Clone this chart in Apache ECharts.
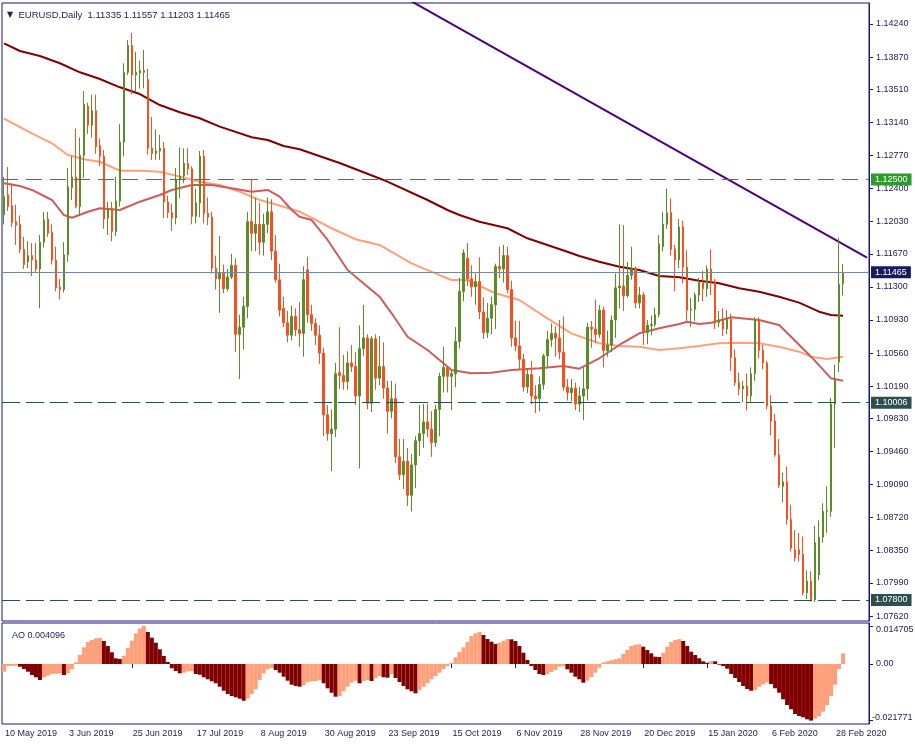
<!DOCTYPE html>
<html>
<head>
<meta charset="utf-8">
<title>EURUSD Daily</title>
<script src="https://cdn.jsdelivr.net/npm/echarts/dist/echarts.min.js"></script>
<style>html,body{margin:0;padding:0;background:#fff}#chart{width:915px;height:746px}</style>
</head>
<body>
<div id="chart"></div>
<script>
// ---------------- data ----------------
const symbolName = 'EURUSD,Daily';
const firstDay = '2019-05-10';
const marketHolidays = ['2019-12-25', '2020-01-01'];

const openP = [
1.1211,1.1233,1.1221,1.1203,1.1200,1.1172,1.1158,1.1165,1.1160,1.1150,
1.1180,1.1206,1.1191,1.1160,1.1130,1.1127,1.1166,1.1241,1.1253,1.1220,
1.1277,1.1332,1.1311,1.1327,1.1288,1.1276,1.1207,1.1218,1.1192,1.1226,
1.1292,1.1370,1.1400,1.1367,1.1369,1.1370,1.1362,1.1285,1.1279,1.1282,
1.1285,1.1225,1.1213,1.1207,1.1250,1.1254,1.1268,1.1262,1.1209,1.1224,
1.1276,1.1212,1.1208,1.1151,1.1139,1.1146,1.1128,1.1141,1.1154,1.1077,
1.1085,1.1108,1.1203,1.1190,1.1200,1.1180,1.1200,1.1214,1.1170,1.1138,
1.1106,1.1090,1.1076,1.1097,1.1082,1.1078,1.1149,1.1099,1.1089,1.1076,
1.1056,1.0987,1.0966,1.0971,1.1034,1.1031,1.1024,1.1045,1.1041,1.1008,
1.1061,1.1073,1.1000,1.1072,1.1028,1.1041,1.1017,1.0991,1.1005,1.0940,
1.0920,1.0935,1.0897,1.0931,1.0958,1.0966,1.0979,1.0971,1.0956,1.0993,
1.1030,1.1040,1.1030,1.1033,1.1069,1.1125,1.1162,1.1139,1.1130,1.1136,
1.1102,1.1079,1.1095,1.1110,1.1153,1.1150,1.1165,1.1127,1.1073,1.1064,
1.1049,1.1018,1.1032,1.1008,1.1005,1.1021,1.1053,1.1071,1.1078,1.1073,
1.1057,1.1018,1.1012,1.1017,1.0999,1.1008,1.1016,1.1085,1.1083,1.1077,
1.1104,1.1059,1.1065,1.1093,1.1129,1.1131,1.1120,1.1143,1.1151,1.1112,
1.1121,1.1079,1.1087,1.1088,1.1099,1.1175,1.1200,1.1213,1.1172,1.1160,
1.1197,1.1152,1.1104,1.1105,1.1121,1.1135,1.1128,1.1150,1.1136,1.1090,
1.1093,1.1083,1.1094,1.1051,1.1023,1.1016,1.1019,1.1008,1.1033,1.1093,
1.1059,1.1045,1.0997,1.0980,1.0942,1.0907,1.0912,1.0870,1.0836,1.0836,
1.0831,1.0788,1.0801,1.0780,1.0808,1.0850,1.0879,1.0879,1.0999,1.1046,
1.11335];

const highP = [
1.1253,1.1264,1.1246,1.1222,1.1210,1.1186,1.1181,1.1179,1.1179,1.1188,
1.1214,1.1214,1.1200,1.1175,1.1139,1.1180,1.1263,1.1276,1.1307,1.1297,
1.1349,1.1336,1.1345,1.1345,1.1296,1.1283,1.1225,1.1225,1.1253,1.1312,
1.1380,1.1406,1.1414,1.1393,1.1383,1.1395,1.1374,1.1320,1.1306,1.1300,
1.1292,1.1232,1.1223,1.1263,1.1286,1.1285,1.1285,1.1265,1.1240,1.1282,
1.1283,1.1230,1.1214,1.1165,1.1187,1.1155,1.1150,1.1167,1.1162,1.1099,
1.1119,1.1214,1.1250,1.1230,1.1224,1.1212,1.1230,1.1228,1.1188,1.1156,
1.1119,1.1103,1.1109,1.1106,1.1113,1.1153,1.1164,1.1110,1.1095,1.1087,
1.1062,1.0998,1.0993,1.1045,1.1085,1.1054,1.1058,1.1065,1.1057,1.1087,
1.1110,1.1077,1.1075,1.1077,1.1075,1.1068,1.1025,1.1025,1.1022,1.0960,
1.0960,1.0950,1.0943,1.0963,1.0998,1.0999,1.0999,1.0991,1.0998,1.1034,
1.1063,1.1041,1.1038,1.1085,1.1140,1.1172,1.1179,1.1154,1.1145,1.1163,
1.1118,1.1112,1.1119,1.1156,1.1175,1.1177,1.1175,1.1137,1.1092,1.1092,
1.1055,1.1039,1.1047,1.1020,1.1030,1.1055,1.1081,1.1089,1.1086,1.1093,
1.1097,1.1027,1.1027,1.1023,1.1018,1.1040,1.1090,1.1092,1.1116,1.1110,
1.1108,1.1081,1.1098,1.1145,1.1200,1.1199,1.1158,1.1175,1.1153,1.1130,
1.1124,1.1093,1.1098,1.1107,1.1188,1.1214,1.1240,1.1229,1.1177,1.1206,
1.1204,1.1171,1.1118,1.1124,1.1140,1.1148,1.1154,1.1172,1.1139,1.1103,
1.1106,1.1104,1.1100,1.1060,1.1034,1.1025,1.1033,1.1040,1.1096,1.1096,
1.1065,1.1047,1.1009,1.0988,1.0960,1.0922,1.0929,1.0886,1.0858,1.0855,
1.0851,1.0813,1.0812,1.0863,1.0869,1.0888,1.0907,1.1006,1.1043,1.1185,
1.11557];

const lowP = [
1.1200,1.1215,1.1197,1.1177,1.1168,1.1150,1.1151,1.1142,1.1146,1.1106,
1.1174,1.1186,1.1155,1.1125,1.1116,1.1124,1.1158,1.1227,1.1218,1.1209,
1.1252,1.1301,1.1297,1.1279,1.1265,1.1195,1.1188,1.1181,1.1187,1.1220,
1.1276,1.1367,1.1345,1.1348,1.1352,1.1352,1.1278,1.1272,1.1272,1.1272,
1.1207,1.1207,1.1193,1.1200,1.1229,1.1246,1.1255,1.1200,1.1201,1.1208,
1.1201,1.1199,1.1145,1.1127,1.1101,1.1123,1.1125,1.1139,1.1057,1.1027,
1.1060,1.1095,1.1170,1.1170,1.1166,1.1165,1.1190,1.1160,1.1135,1.1097,
1.1085,1.1068,1.1070,1.1075,1.1063,1.1052,1.1090,1.1081,1.1065,1.1044,
1.0963,1.0958,1.0924,1.0962,1.1016,1.1015,1.1015,1.1035,1.0998,1.0927,
1.1053,1.0993,1.0990,1.1015,1.1020,1.1005,1.0966,1.0983,1.0933,1.0914,
1.0904,1.0885,1.0879,1.0905,1.0941,1.0950,1.0962,1.0940,1.0951,1.0963,
1.1012,1.1012,1.0992,1.1018,1.1061,1.1114,1.1131,1.1119,1.1110,1.1094,
1.1072,1.1073,1.1077,1.1083,1.1140,1.1135,1.1123,1.1063,1.1058,1.1037,
1.1013,1.1011,1.0999,1.0989,1.0991,1.1015,1.1040,1.1063,1.1052,1.1049,
1.1014,1.1003,1.1002,1.0992,1.0990,1.0981,1.1003,1.1062,1.1067,1.1073,
1.1040,1.1052,1.1057,1.1073,1.1106,1.1103,1.1118,1.1138,1.1106,1.1106,
1.1065,1.1066,1.1076,1.1085,1.1096,1.1170,1.1195,1.1165,1.1125,1.1151,
1.1134,1.1092,1.1085,1.1092,1.1113,1.1114,1.1119,1.1121,1.1083,1.1085,
1.1075,1.1077,1.1036,1.1019,1.1009,1.1001,1.0992,1.1001,1.1025,1.1050,
1.1038,1.0993,1.0964,1.0940,1.0905,1.0889,1.0864,1.0834,1.0823,1.0823,
1.0785,1.0781,1.0778,1.0778,1.0802,1.0844,1.0855,1.0873,1.0950,1.1035,
1.11203];

const closeP = [
1.1231,1.1220,1.1202,1.1199,1.1172,1.1155,1.1165,1.1160,1.1150,1.1180,
1.1205,1.1190,1.1160,1.1129,1.1127,1.1166,1.1242,1.1253,1.1220,1.1277,
1.1334,1.1311,1.1327,1.1287,1.1276,1.1206,1.1218,1.1192,1.1226,1.1292,
1.1370,1.1400,1.1367,1.1370,1.1372,1.1372,1.1285,1.1279,1.1282,1.1285,
1.1225,1.1213,1.1207,1.1250,1.1254,1.1268,1.1262,1.1209,1.1224,1.1276,
1.1212,1.1208,1.1151,1.1139,1.1146,1.1128,1.1141,1.1154,1.1077,1.1085,
1.1108,1.1203,1.1190,1.1200,1.1180,1.1200,1.1214,1.1170,1.1138,1.1104,
1.1090,1.1076,1.1097,1.1082,1.1078,1.1138,1.1099,1.1089,1.1076,1.1056,
1.0987,1.0966,1.0971,1.1033,1.1031,1.1024,1.1045,1.1041,1.1008,1.1061,
1.1073,1.1000,1.1072,1.1028,1.1041,1.1017,1.0991,1.1005,1.0940,1.0920,
1.0935,1.0897,1.0931,1.0958,1.0966,1.0979,1.0971,1.0956,1.0993,1.1030,
1.1040,1.1030,1.1033,1.1069,1.1125,1.1168,1.1139,1.1130,1.1136,1.1102,
1.1079,1.1095,1.1110,1.1153,1.1150,1.1165,1.1127,1.1073,1.1064,1.1049,
1.1018,1.1032,1.1008,1.1005,1.1021,1.1053,1.1071,1.1078,1.1073,1.1057,
1.1018,1.1012,1.1017,1.0999,1.1008,1.1016,1.1085,1.1083,1.1077,1.1104,
1.1059,1.1065,1.1093,1.1129,1.1131,1.1120,1.1143,1.1151,1.1112,1.1121,
1.1079,1.1087,1.1088,1.1099,1.1178,1.1200,1.1213,1.1172,1.1160,1.1197,
1.1152,1.1104,1.1105,1.1121,1.1135,1.1128,1.1150,1.1136,1.1090,1.1093,
1.1083,1.1094,1.1051,1.1023,1.1016,1.1019,1.1008,1.1033,1.1093,1.1059,
1.1045,1.0997,1.0980,1.0942,1.0908,1.0912,1.0870,1.0838,1.0827,1.0831,
1.0788,1.0801,1.0780,1.0844,1.0850,1.0879,1.0880,1.0999,1.1026,1.1133,
1.11465];

// Awesome Oscillator, one value per bar
const aoValues = [
-0.00296,-0.00077,-0.00073,-0.00065,-0.00104,-0.00192,-0.00296,-0.00423,-0.00512,-0.00615,
-0.00512,-0.00450,-0.00385,-0.00373,-0.00358,-0.00423,-0.00358,-0.00192,0.00065,0.00346,
0.00642,0.00846,0.00923,0.00988,0.01000,0.00885,0.00692,0.00450,0.00219,0.00192,
0.00319,0.00615,0.00896,0.01181,0.01373,0.014705,0.01231,0.01012,0.00819,0.00565,
0.00308,0.00077,-0.00165,-0.00269,-0.00358,-0.00335,-0.00281,-0.00269,-0.00385,-0.00412,
-0.00512,-0.00588,-0.00665,-0.00742,-0.00873,-0.01027,-0.01154,-0.01231,-0.01281,-0.01335,
-0.01412,-0.01335,-0.01154,-0.00973,-0.00615,-0.00358,-0.00204,-0.00154,-0.00231,-0.00335,
-0.00488,-0.00642,-0.00796,-0.00846,-0.00873,-0.00808,-0.00704,-0.00665,-0.00654,-0.00615,
-0.00742,-0.00935,-0.01104,-0.01258,-0.01231,-0.01050,-0.00873,-0.00719,-0.00642,-0.00742,
-0.00654,-0.00615,-0.00654,-0.00550,-0.00462,-0.00512,-0.00527,-0.00385,-0.00538,-0.00692,
-0.00846,-0.00973,-0.01050,-0.01127,-0.01000,-0.00873,-0.00742,-0.00588,-0.00462,-0.00335,
-0.00192,-0.00077,0.00050,0.00258,0.00462,0.00642,0.00846,0.01077,0.01181,0.01231,
0.01115,0.00962,0.00858,0.00769,0.00819,0.00896,0.00962,0.00950,0.00885,0.00692,
0.00435,0.00154,-0.00077,-0.00231,-0.00385,-0.00423,-0.00385,-0.00308,-0.00231,-0.00104,
-0.00088,-0.00204,-0.00335,-0.00488,-0.00588,-0.00719,-0.00642,-0.00512,-0.00335,-0.00142,
0.00065,0.00104,0.00142,0.00181,0.00219,0.00385,0.00538,0.00692,0.00742,0.00758,
0.00665,0.00538,0.00412,0.00281,0.00269,0.00435,0.00665,0.00846,0.00923,0.00962,
0.00885,0.00692,0.00473,0.00346,0.00219,0.00104,0.00050,0.00115,0.00104,-0.00027,
-0.00077,-0.00181,-0.00385,-0.00538,-0.00692,-0.00846,-0.00962,-0.01027,-0.01000,-0.00873,
-0.00781,-0.00704,-0.00769,-0.00935,-0.01104,-0.01358,-0.01577,-0.01742,-0.01923,-0.02000,
-0.02050,-0.02127,-0.021771,-0.02104,-0.02012,-0.01835,-0.01577,-0.01231,-0.00796,-0.00192,
0.004096];

// moving averages: [bar index, price]
const maSlow = [[0,1.14024],[4,1.13938],[9,1.13882],[14,1.13801],[19,1.13700],[24,1.13625],[29,1.13532],[34,1.13457],[39,1.13334],[44,1.13253],[49,1.13186],[54,1.13092],[62,1.12973],[66,1.12943],[70,1.12876],[74,1.12839],[84,1.12686],[95,1.12496],[106,1.12272],[111,1.12160],[114,1.12104],[119,1.12029],[126,1.11956],[131,1.11844],[136,1.11769],[141,1.11694],[144,1.11646],[149,1.11582],[154,1.11526],[159,1.11489],[164,1.11422],[169,1.11408],[174,1.11370],[179,1.11340],[184,1.11285],[189,1.11247],[194,1.11191],[199,1.11124],[204,1.11023],[207,1.10986],[210,1.10978]];
const maMid = [[0,1.13181],[7,1.13018],[12,1.12906],[16,1.12775],[20,1.12727],[24,1.12700],[29,1.12600],[34,1.12600],[39,1.12588],[44,1.12533],[49,1.12477],[54,1.12440],[59,1.12365],[64,1.12272],[69,1.12210],[74,1.12141],[82,1.11956],[88,1.11833],[94,1.11769],[102,1.11564],[108,1.11452],[112,1.11377],[116,1.11377],[123,1.11229],[129,1.11154],[136,1.10949],[142,1.10781],[149,1.10670],[154,1.10639],[159,1.10632],[164,1.10595],[169,1.10614],[174,1.10639],[179,1.10670],[184,1.10676],[189,1.10670],[194,1.10632],[199,1.10576],[202,1.10520],[206,1.10494],[210,1.10520]];
const maFast = [[0,1.12459],[4,1.12429],[7,1.12384],[12,1.12272],[15,1.12104],[17,1.12074],[21,1.12141],[24,1.12179],[29,1.12160],[34,1.12253],[39,1.12328],[42,1.12384],[47,1.12440],[52,1.12440],[57,1.12403],[62,1.12365],[66,1.12384],[69,1.12309],[72,1.12160],[74,1.12085],[77,1.12048],[81,1.11825],[86,1.11489],[91,1.11303],[94,1.11191],[97,1.11005],[101,1.10743],[106,1.10595],[109,1.10483],[112,1.10371],[117,1.10334],[122,1.10341],[127,1.10371],[134,1.10390],[140,1.10416],[144,1.10386],[149,1.10502],[154,1.10651],[159,1.10781],[164,1.10837],[169,1.10885],[171,1.10911],[174,1.10885],[177,1.10900],[182,1.10960],[189,1.10930],[194,1.10874],[197,1.10743],[202,1.10520],[207,1.10278],[210,1.10251]];

const trendLine = [[101,1.14518],[216,1.11627]];
const resistanceLevel = 1.12500;
const supportLevels = [1.10006, 1.07800];

const priceTicks = [1.14240,1.13870,1.13510,1.13140,1.12770,1.12400,1.12030,1.11670,1.11300,1.10930,1.10560,1.10190,1.09830,1.09460,1.09090,1.08720,1.08350,1.07990,1.07620];
const aoTicks = [0.014705, 0, -0.021771];

// ---------------- build ----------------
const MON = ['Jan','Feb','Mar','Apr','May','Jun','Jul','Aug','Sep','Oct','Nov','Dec'];
const dates = [];
for (let t = Date.parse(firstDay + 'T00:00:00Z'); dates.length < closeP.length; t += 86400000) {
  const d = new Date(t);
  const wd = d.getUTCDay();
  const iso = d.toISOString().slice(0, 10);
  if (wd === 0 || wd === 6 || marketHolidays.includes(iso)) continue;
  dates.push(d.getUTCDate() + ' ' + MON[d.getUTCMonth()] + ' ' + d.getUTCFullYear());
}
const rightPad = 6;
const categories = dates.concat(Array.from({length: rightPad}, (_, i) => 'pad' + i));
const showDate = (i) => i % 16 === 0 && i < dates.length;

const candles = dates.map((_, i) => [openP[i], closeP[i], lowP[i], highP[i]]);
const last = closeP.length - 1;
const currentPrice = closeP[last];

const NAVY = '#191970';
const TXT = '#1c1c5c';
const FONT = '"Liberation Sans", Arial, sans-serif';
const BULL = '#5a8c28';
const BEAR = '#f5501f';
const AO_UP = '#ffa07a';
const AO_DOWN = '#800000';

const tagLabel = (bg) => ({
  show: true, position: 'end', distance: 2, color: '#ffffff', backgroundColor: bg,
  fontSize: 9, fontFamily: FONT, padding: [2, 4, 1, 4],
  formatter: (p) => Number(p.value).toFixed(5)
});

const option = {
  animation: false,
  backgroundColor: '#ffffff',
  textStyle: { fontFamily: FONT },
  title: [
    {
      text: '{tri|▼}  ' + symbolName + '  ' + [openP[last], highP[last], lowP[last], closeP[last]].map(v => v.toFixed(5)).join(' '),
      left: 2, top: 5,
      textStyle: { fontSize: 9.5, fontWeight: 'normal', color: TXT, fontFamily: FONT,
        rich: { tri: { fontSize: 8, color: TXT, fontFamily: 'DejaVu Sans' } } }
    },
    {
      text: 'AO ' + aoValues[last].toFixed(6),
      left: 7, top: 626,
      textStyle: { fontSize: 9, fontWeight: 'normal', color: TXT, fontFamily: FONT }
    }
  ],
  grid: [
    { left: 2, top: 3, width: 867, height: 618, show: true, borderColor: NAVY, borderWidth: 1, backgroundColor: '#ffffff',
      containLabel: false, outerBoundsMode: 'none' },
    { left: 2, top: 623, width: 867, height: 101, show: true, borderColor: NAVY, borderWidth: 1, backgroundColor: '#ffffff',
      containLabel: false, outerBoundsMode: 'none' }
  ],
  xAxis: [
    { type: 'category', gridIndex: 0, data: categories, boundaryGap: true,
      axisLine: { show: false }, axisTick: { show: false }, axisLabel: { show: false }, splitLine: { show: false } },
    { type: 'category', gridIndex: 1, data: categories, boundaryGap: true,
      axisLine: { show: false },
      axisTick: { show: true, alignWithLabel: true, interval: showDate, length: 4, lineStyle: { color: NAVY } },
      axisLabel: { interval: showDate, align: 'left', margin: 5, fontSize: 9, color: TXT, fontFamily: FONT, padding: [0, 0, 0, 1] },
      splitLine: { show: false } }
  ],
  yAxis: [
    { type: 'value', gridIndex: 0, position: 'right', min: 1.075643, max: 1.144748, scale: true,
      splitLine: { show: false },
      axisLine: { show: true, onZero: false, lineStyle: { color: NAVY } },
      axisTick: { show: true, length: 4, customValues: priceTicks, lineStyle: { color: NAVY } },
      axisLabel: { customValues: priceTicks, formatter: (v) => v.toFixed(5), fontSize: 9, color: TXT, fontFamily: FONT, margin: 7 } },
    { type: 'value', gridIndex: 1, position: 'right', min: -0.02308, max: 0.01577,
      splitLine: { show: false },
      axisLine: { show: true, onZero: false, lineStyle: { color: NAVY } },
      axisTick: { show: true, length: 4, customValues: aoTicks, lineStyle: { color: NAVY } },
      axisLabel: { customValues: aoTicks, margin: 2,
        formatter: (v) => v === 0 ? '{m|0.00}' : (v > 0 ? '{t|' + v.toFixed(6) + '}' : '{b|' + v.toFixed(6) + '}'),
        rich: {
          t: { fontSize: 9, color: TXT, fontFamily: FONT, padding: [7, 0, 0, 5] },
          b: { fontSize: 9, color: TXT, fontFamily: FONT, padding: [0, 0, 6, 1] },
          m: { fontSize: 9, color: TXT, fontFamily: FONT, padding: [0, 0, 0, 5] }
        } } }
  ],
  series: [
    { name: 'MA slow', type: 'line', xAxisIndex: 0, yAxisIndex: 0, data: maSlow, symbol: 'none', silent: true,
      lineStyle: { color: '#800000', width: 2 }, z: 2 },
    { name: 'MA mid', type: 'line', xAxisIndex: 0, yAxisIndex: 0, data: maMid, symbol: 'none', silent: true,
      lineStyle: { color: '#ffa07a', width: 2 }, z: 2 },
    { name: 'MA fast', type: 'line', xAxisIndex: 0, yAxisIndex: 0, data: maFast, symbol: 'none', silent: true,
      lineStyle: { color: '#cd5c5c', width: 2 }, z: 2 },
    { name: 'Trend', type: 'line', xAxisIndex: 0, yAxisIndex: 0, data: trendLine, symbol: 'none', silent: true,
      lineStyle: { color: '#4b0082', width: 2 }, z: 2 },
    { name: 'EURUSD', type: 'candlestick', xAxisIndex: 0, yAxisIndex: 0, data: candles, barWidth: 2, z: 3,
      itemStyle: { color: BULL, color0: BEAR, borderColor: BULL, borderColor0: BEAR, borderWidth: 1 },
      markLine: {
        symbol: ['none', 'none'], silent: true, animation: false, precision: 5,
        data: [
          { yAxis: resistanceLevel, lineStyle: { color: '#2e8b2e', type: [16, 8], width: 1 }, label: tagLabel('#2e9a2e') },
          { yAxis: currentPrice, lineStyle: { color: '#778899', type: 'solid', width: 1 }, label: tagLabel('#191960') },
          { yAxis: supportLevels[0], lineStyle: { color: '#2f4f4f', type: [18, 6], width: 1 }, label: tagLabel('#2f4f4f') },
          { yAxis: supportLevels[1], lineStyle: { color: '#2f4f4f', type: [18, 6], width: 1 }, label: tagLabel('#2f4f4f') }
        ]
      } },
    { name: 'AO', type: 'bar', xAxisIndex: 1, yAxisIndex: 1, data: aoValues, barWidth: 4, barCategoryGap: '0%',
      itemStyle: { color: (p) => (p.dataIndex === 0 || aoValues[p.dataIndex] > aoValues[p.dataIndex - 1]) ? AO_UP : AO_DOWN } }
  ]
};

const chart = echarts.init(document.getElementById('chart'), null, { renderer: 'canvas' });
chart.setOption(option);
</script>
</body>
</html>
